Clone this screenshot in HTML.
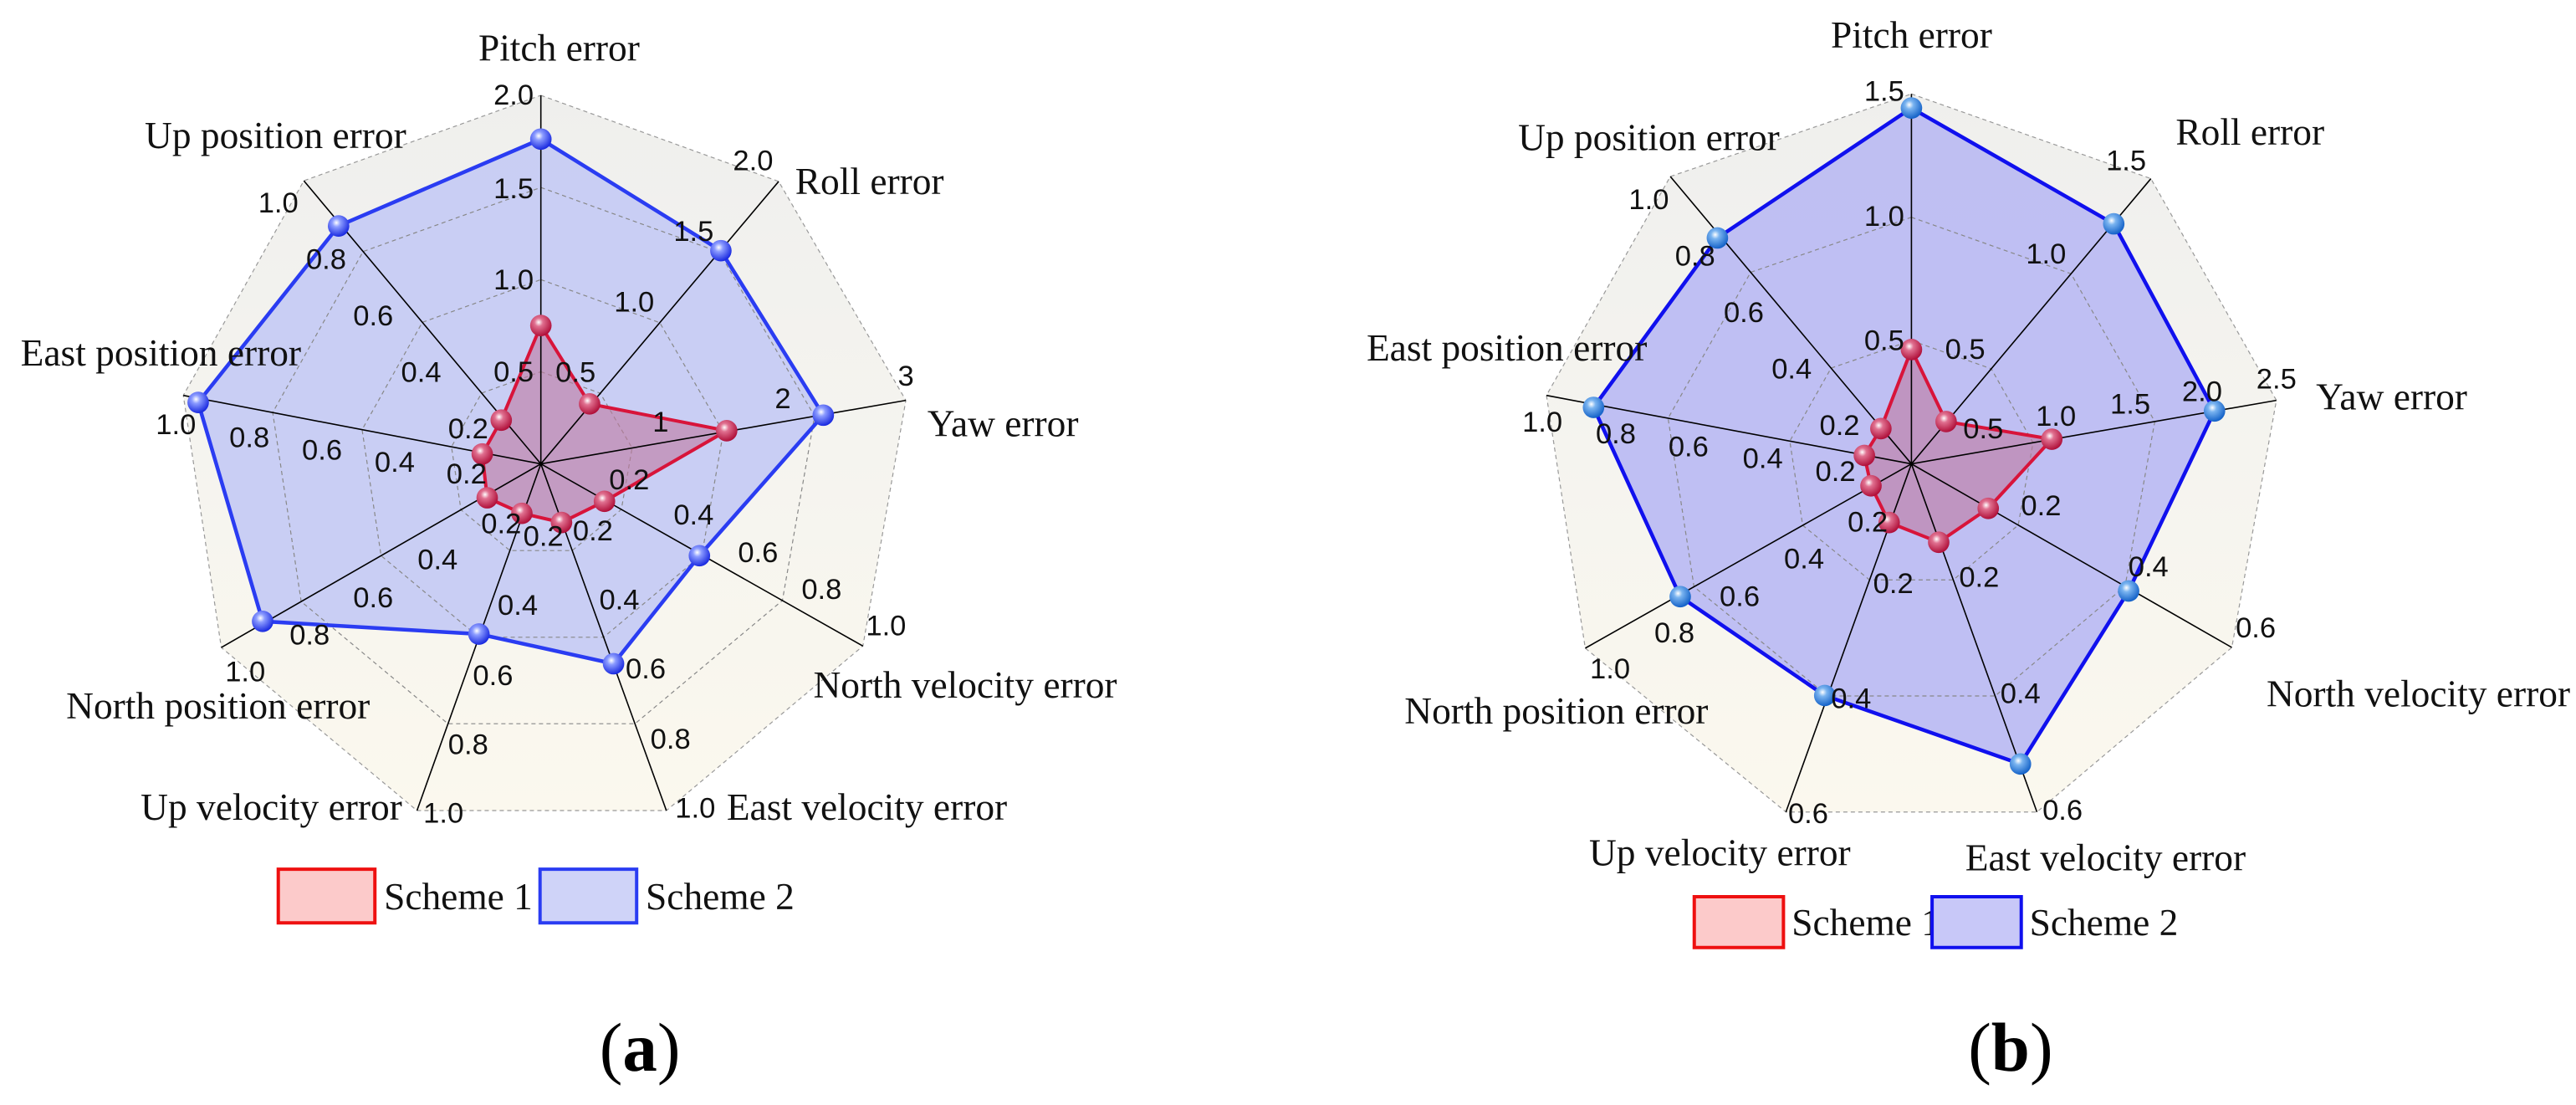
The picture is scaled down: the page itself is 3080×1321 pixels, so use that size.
<!DOCTYPE html>
<html><head><meta charset="utf-8"><style>
html,body{margin:0;padding:0;background:#fff;overflow:hidden;}
svg{display:block;}
polygon,line,rect{vector-effect:non-scaling-stroke;}
.ax{stroke:#000;stroke-width:1.6;}
.ring{fill:none;stroke:#888;stroke-width:1.2;stroke-dasharray:5 4;}
.u,text,circle{transform-box:fill-box;transform-origin:center;transform:scale(1,1.17);}
.tk{font-family:"Liberation Sans",sans-serif;font-size:35px;fill:#111;text-anchor:middle;dominant-baseline:central;}
.lb{font-family:"Liberation Serif",serif;font-size:46px;fill:#111;dominant-baseline:central;}
.lg{font-family:"Liberation Serif",serif;font-size:46px;fill:#111;dominant-baseline:central;}
.cap{font-family:"Liberation Serif",serif;font-size:84px;fill:#000;text-anchor:middle;dominant-baseline:central;}
</style></head><body>
<svg width="3080" height="1321" viewBox="0 0 3080 1321" xmlns="http://www.w3.org/2000/svg">
<defs>
<linearGradient id="bg" x1="0" y1="0" x2="0" y2="1">
<stop offset="0" stop-color="#efefed"/><stop offset="0.5" stop-color="#f5f4ef"/><stop offset="1" stop-color="#fbf8ee"/>
</linearGradient>
<radialGradient id="sb" cx="0.4" cy="0.35" r="0.65">
<stop offset="0" stop-color="#ffffff"/><stop offset="0.3" stop-color="#8c9cff"/><stop offset="1" stop-color="#1a2ae0"/>
</radialGradient>
<radialGradient id="sb2" cx="0.4" cy="0.35" r="0.65">
<stop offset="0" stop-color="#ffffff"/><stop offset="0.3" stop-color="#7ab4f0"/><stop offset="1" stop-color="#1462c8"/>
</radialGradient>
<radialGradient id="sr" cx="0.4" cy="0.35" r="0.65">
<stop offset="0" stop-color="#ffffff"/><stop offset="0.3" stop-color="#e07090"/><stop offset="1" stop-color="#b0103a"/>
</radialGradient>
</defs>

<!-- LEFT -->
<g transform="scale(0.9873,0.8441)">
<polygon points="655,135 943,257 1097,567 1045,915 807,1148 505,1148 268,917 222,560 368,256" fill="url(#bg)" stroke="#999" stroke-width="1.2" stroke-dasharray="5 4"/>
<polygon points="655,197 873,355 997,588 847,787 743,940 580,898 318,880 240,570 410,320" fill="#c6cbf3" fill-opacity="0.95" stroke="none"/>
<polygon class="ring" points="655,526.5 727,557 765.5,634.5 752.5,721.5 693,779.75 617.5,779.75 558.25,722 546.75,632.75 583.25,556.75"/>
<polygon class="ring" points="655,396 799,457 876,612 850,786 731,902.5 580,902.5 461.5,787 438.5,608.5 511.5,456.5"/>
<polygon class="ring" points="655,265.5 871,357 986.5,589.5 947.5,850.5 769,1025 542.5,1025 364.75,852 330.25,584.25 439.75,356.25"/>
<polygon points="655,461 714,572 880,610 732,710 680,740 632,727 590,705 584,643 607,595" fill="#c07aa0" fill-opacity="0.6" stroke="#d8143a" stroke-width="4"/>
<g class="ax">
<line x1="655" y1="657" x2="655" y2="135"/><line x1="655" y1="657" x2="943" y2="257"/><line x1="655" y1="657" x2="1097" y2="567"/>
<line x1="655" y1="657" x2="1045" y2="915"/><line x1="655" y1="657" x2="807" y2="1148"/><line x1="655" y1="657" x2="505" y2="1148"/>
<line x1="655" y1="657" x2="268" y2="917"/><line x1="655" y1="657" x2="222" y2="560"/><line x1="655" y1="657" x2="368" y2="256"/>
</g>
<polygon points="655,197 873,355 997,588 847,787 743,940 580,898 318,880 240,570 410,320" fill="none" stroke="#2a3cf2" stroke-width="4.5"/>
<g fill="url(#sb)">
<circle cx="655" cy="197" r="13"/><circle cx="873" cy="355" r="13"/><circle cx="997" cy="588" r="13"/><circle cx="847" cy="787" r="13"/><circle cx="743" cy="940" r="13"/><circle cx="580" cy="898" r="13"/><circle cx="318" cy="880" r="13"/><circle cx="240" cy="570" r="13"/><circle cx="410" cy="320" r="13"/>
</g>
<g fill="url(#sr)">
<circle cx="655" cy="461" r="13"/><circle cx="714" cy="572" r="13"/><circle cx="880" cy="610" r="13"/><circle cx="732" cy="710" r="13"/><circle cx="680" cy="740" r="13"/><circle cx="632" cy="727" r="13"/><circle cx="590" cy="705" r="13"/><circle cx="584" cy="643" r="13"/><circle cx="607" cy="595" r="13"/>
</g>
<g class="tk">
<text x="622" y="135">2.0</text><text x="622" y="268">1.5</text><text x="622" y="397">1.0</text><text x="622" y="527">0.5</text>
<text x="912" y="228">2.0</text><text x="840" y="328">1.5</text><text x="768" y="428">1.0</text><text x="697" y="528">0.5</text>
<text x="1097" y="533">3</text><text x="948" y="565">2</text><text x="800" y="598">1</text>
<text x="762" y="680">0.2</text><text x="840" y="730">0.4</text><text x="918" y="783">0.6</text><text x="995" y="835">0.8</text><text x="1073" y="887">1.0</text>
<text x="718" y="752">0.2</text><text x="750" y="850">0.4</text><text x="782" y="948">0.6</text><text x="812" y="1047">0.8</text><text x="842" y="1145">1.0</text>
<text x="658" y="760">0.2</text><text x="627" y="858">0.4</text><text x="597" y="957">0.6</text><text x="567" y="1055">0.8</text><text x="537" y="1152">1.0</text>
<text x="607" y="742">0.2</text><text x="530" y="793">0.4</text><text x="452" y="847">0.6</text><text x="375" y="900">0.8</text><text x="297" y="952">1.0</text>
<text x="565" y="672">0.2</text><text x="478" y="655">0.4</text><text x="390" y="638">0.6</text><text x="302" y="620">0.8</text><text x="213" y="602">1.0</text>
<text x="567" y="608">0.2</text><text x="510" y="528">0.4</text><text x="452" y="448">0.6</text><text x="395" y="368">0.8</text><text x="337" y="288">1.0</text>
</g>
<g class="lb">
<text x="677" y="68" text-anchor="middle">Pitch error</text>
<text x="963" y="257">Roll error</text>
<text x="1123" y="600">Yaw error</text>
<text x="985" y="970">North velocity error</text>
<text x="880" y="1143">East velocity error</text>
<text x="487" y="1143" text-anchor="end">Up velocity error</text>
<text x="448" y="1000" text-anchor="end">North position error</text>
<text x="25" y="500">East position error</text>
<text x="492" y="192" text-anchor="end">Up position error</text>
</g>
<rect x="337" y="1231" width="117" height="76" fill="#fccaca" stroke="#ee1010" stroke-width="4"/>
<text class="lg" x="465" y="1270">Scheme 1</text>
<rect x="654" y="1231" width="117" height="76" fill="#cfd3f8" stroke="#2a3cf2" stroke-width="4"/>
<text class="lg" x="782" y="1270">Scheme 2</text>
<text class="cap" x="775" y="1483">(<tspan font-weight="bold">a</tspan>)</text>
</g>

<!-- RIGHT -->
<g transform="translate(1540,0) scale(0.9873,0.8441)">
<polygon points="755,133 1045,253 1197,567 1143,917 907,1150 603,1150 360,918 313,560 463,250" fill="url(#bg)" stroke="#999" stroke-width="1.2" stroke-dasharray="5 4"/>
<polygon points="755,153 1000,317 1122,582 1018,837 887,1082 650,985 475,845 370,577 520,337" fill="#bcbcf2" fill-opacity="0.95" stroke="none"/>
<polygon class="ring" points="755,482.3 851.7,522.3 902.3,627 884.3,743.7 805.7,821.3 704.3,821.3 623.3,744 607.7,624.7 657.7,521.3"/>
<polygon class="ring" points="755,307.7 948.3,387.7 1049.7,597 1013.7,830.3 856.3,985.7 653.7,985.7 491.7,831 460.3,592.3 560.3,385.7"/>
<polygon points="755,495 797,597 925,622 848,720 788,768 728,740 706,688 698,645 718,607" fill="#c07aa0" fill-opacity="0.6" stroke="#d8143a" stroke-width="4"/>
<g class="ax">
<line x1="755" y1="657" x2="755" y2="133"/><line x1="755" y1="657" x2="1045" y2="253"/><line x1="755" y1="657" x2="1197" y2="567"/>
<line x1="755" y1="657" x2="1143" y2="917"/><line x1="755" y1="657" x2="907" y2="1150"/><line x1="755" y1="657" x2="603" y2="1150"/>
<line x1="755" y1="657" x2="360" y2="918"/><line x1="755" y1="657" x2="313" y2="560"/><line x1="755" y1="657" x2="463" y2="250"/>
</g>
<polygon points="755,153 1000,317 1122,582 1018,837 887,1082 650,985 475,845 370,577 520,337" fill="none" stroke="#1010ee" stroke-width="4.5"/>
<g fill="url(#sb2)">
<circle cx="755" cy="153" r="13"/><circle cx="1000" cy="317" r="13"/><circle cx="1122" cy="582" r="13"/><circle cx="1018" cy="837" r="13"/><circle cx="887" cy="1082" r="13"/><circle cx="650" cy="985" r="13"/><circle cx="475" cy="845" r="13"/><circle cx="370" cy="577" r="13"/><circle cx="520" cy="337" r="13"/>
</g>
<g fill="url(#sr)">
<circle cx="755" cy="495" r="13"/><circle cx="797" cy="597" r="13"/><circle cx="925" cy="622" r="13"/><circle cx="848" cy="720" r="13"/><circle cx="788" cy="768" r="13"/><circle cx="728" cy="740" r="13"/><circle cx="706" cy="688" r="13"/><circle cx="698" cy="645" r="13"/><circle cx="718" cy="607" r="13"/>
</g>
<g class="tk">
<text x="722" y="130">1.5</text><text x="722" y="307">1.0</text><text x="722" y="483">0.5</text>
<text x="1015" y="228">1.5</text><text x="918" y="360">1.0</text><text x="820" y="495">0.5</text>
<text x="1197" y="537">2.5</text><text x="1107" y="555">2.0</text><text x="1020" y="573">1.5</text><text x="930" y="590">1.0</text><text x="842" y="608">0.5</text>
<text x="1172" y="890">0.6</text><text x="1042" y="803">0.4</text><text x="912" y="717">0.2</text>
<text x="938" y="1148">0.6</text><text x="887" y="983">0.4</text><text x="837" y="818">0.2</text>
<text x="630" y="1153">0.6</text><text x="682" y="990">0.4</text><text x="733" y="827">0.2</text>
<text x="390" y="948">1.0</text><text x="468" y="897">0.8</text><text x="547" y="845">0.6</text><text x="625" y="792">0.4</text><text x="702" y="740">0.2</text>
<text x="308" y="598">1.0</text><text x="397" y="615">0.8</text><text x="485" y="633">0.6</text><text x="575" y="650">0.4</text><text x="663" y="668">0.2</text>
<text x="437" y="283">1.0</text><text x="493" y="363">0.8</text><text x="552" y="443">0.6</text><text x="610" y="523">0.4</text><text x="668" y="603">0.2</text>
</g>
<g class="lb">
<text x="755" y="50" text-anchor="middle">Pitch error</text>
<text x="1075" y="187">Roll error</text>
<text x="1245" y="562">Yaw error</text>
<text x="1185" y="983">North velocity error</text>
<text x="990" y="1215" text-anchor="middle">East velocity error</text>
<text x="523" y="1208" text-anchor="middle">Up velocity error</text>
<text x="325" y="1007" text-anchor="middle">North position error</text>
<text x="265" y="493" text-anchor="middle">East position error</text>
<text x="437" y="195" text-anchor="middle">Up position error</text>
</g>
<rect x="492" y="1270" width="108" height="72" fill="#fccaca" stroke="#ee1010" stroke-width="4"/>
<text class="lg" x="610" y="1307">Scheme 1</text>
<rect x="780" y="1270" width="108" height="72" fill="#c8c8f8" stroke="#1010ee" stroke-width="4"/>
<text class="lg" x="898" y="1307">Scheme 2</text>
<text class="cap" x="875" y="1483">(<tspan font-weight="bold">b</tspan>)</text>
</g>
</svg>
</body></html>
